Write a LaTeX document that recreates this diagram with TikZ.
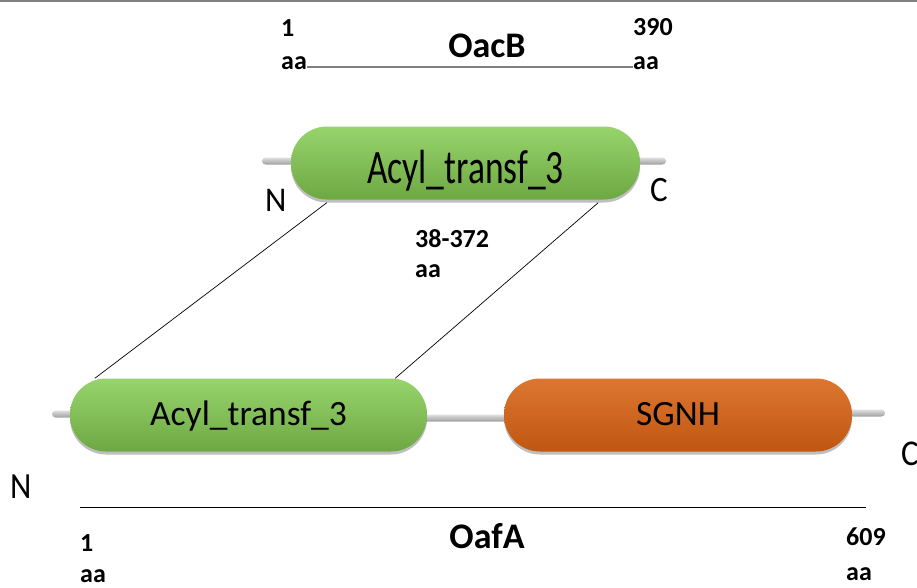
\documentclass[tikz,border=0pt]{standalone}
\usepackage{fontspec}
\setmainfont{Carlito}
\usetikzlibrary{shadows}
\definecolor{gtop}{HTML}{98D46C}
\definecolor{gmid}{HTML}{7BBD50}
\definecolor{gbot}{HTML}{6DA843}
\definecolor{otop}{HTML}{DC7631}
\definecolor{omid}{HTML}{C85E17}
\definecolor{obot}{HTML}{C05711}
\tikzset{
  pill/.style={rectangle, rounded corners=36pt, minimum height=73pt, inner sep=0pt,
    font=\fontsize{35.5}{40}\selectfont, text height=20pt, text depth=0pt,
    drop shadow={shadow xshift=0pt, shadow yshift=-3pt, opacity=0.25, fill=black}},
  greenpill/.style={pill, top color=gtop, middle color=gmid, bottom color=gbot},
  orangepill/.style={pill, top color=otop, middle color=omid, bottom color=obot},
  stub/.style={rectangle, rounded corners=3.5pt, minimum height=7pt, inner sep=0pt,
    top color=gray!25, bottom color=gray!75},
  aalab/.style={font=\bfseries\fontsize{26}{30}\selectfont, inner sep=0pt, anchor=base west},
  title/.style={font=\bfseries\fontsize{36}{40}\selectfont, inner sep=0pt, anchor=base},
  term/.style={font=\fontsize{33}{36}\selectfont, inner sep=0pt, anchor=base west},
  link/.style={black, line width=0.7pt},
  scaleline/.style={gray, line width=1.5pt}
}
\newcommand{\tallish}[2]{\scalebox{1}[#1]{#2}}
\begin{document}
\begin{tikzpicture}[x=1pt,y=-1pt]
\useasboundingbox (0,0) rectangle (917,587);
\fill[white] (0,0) rectangle (917,587);
\draw[gray, line width=2pt] (0,1) -- (917,1);

% OacB header
\node[title] (oacb) at (487,57) {OacB};
\node[aalab] (o1) at (281,36) {1};
\node[aalab] (o1aa) at (281,69) {aa};
\node[aalab] (o390) at (633,35) {390};
\node[aalab] (o390aa) at (633,69) {aa};
\draw[scaleline] (o1aa.base east) ++(0,-2) coordinate (ls) -- (o390aa.base west |- ls) coordinate (le);

% Top protein
\node[stub, minimum width=32pt] (ts1) at (278,161) {};
\node[stub, minimum width=30pt] (ts2) at (651,161) {};
\node[greenpill, minimum width=349pt, text height=40pt] (top) at (465.5,163) {\tallish{1.35}{Acyl\_transf\_3}};
\node[term] (tn) at (265,211) {\tallish{1.05}{N}};
\node[term] (tc) at (650,201) {\tallish{1.08}{C}};
\node[aalab] (r1) at (415,247) {38-372};
\node[aalab] (r2) at (415,277) {aa};

% Bottom protein
\node[stub, minimum width=24pt] (bs1) at (64,414) {};
\node[stub, minimum width=84pt] (bs2) at (465,418) {};
\node[stub, minimum width=36pt] (bs3) at (867,413) {};
\node[greenpill, minimum width=357pt] (acyl) at (248.5,415) {Acyl\_transf\_3};
\node[orangepill, minimum width=348pt] (sgnh) at (678,415) {SGNH};
\node[term] (bn) at (10,498) {\tallish{1.12}{N}};
\node[term] (bc) at (901,465) {\tallish{1.1}{C}};

% Connectors
\draw[link] ([xshift=36pt,yshift=-3pt]top.south west) -- ([xshift=25pt]acyl.north west);
\draw[link] ([xshift=-42pt,yshift=-3pt]top.south east) -- ([xshift=-32pt]acyl.north east);

% OafA scale
\coordinate (bl) at (80,507);
\coordinate (br) at (866,507);
\draw[black, line width=0.8pt] (bl) -- (br);
\node[title] (oafa) at (487,548) {OafA};
\node[aalab] (a1) at (80,551) {1};
\node[aalab] (a1aa) at (80,582) {aa};
\node[aalab] (a609) at (846,545) {609};
\node[aalab] (a609aa) at (846,580) {aa};
\end{tikzpicture}
\end{document}
